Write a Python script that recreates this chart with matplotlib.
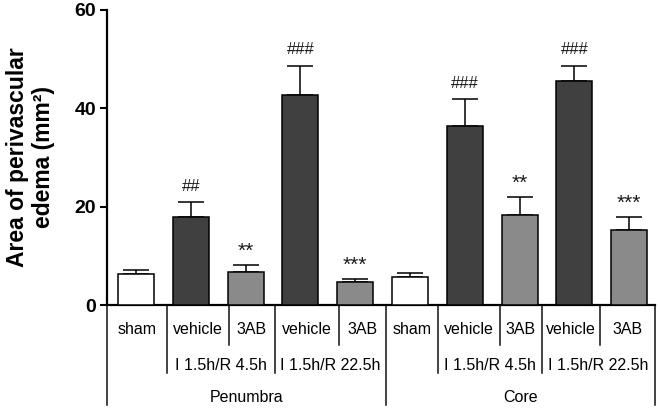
import matplotlib
matplotlib.use("Agg")
import matplotlib.pyplot as plt
from matplotlib.lines import Line2D
import numpy as np

plt.rcParams['font.family'] = ['Liberation Sans', 'DejaVu Sans']

# ---- data ----
groups = ["sham", "vehicle", "3AB", "vehicle", "3AB",
          "sham", "vehicle", "3AB", "vehicle", "3AB"]
means = [6.3, 17.8, 6.7, 42.7, 4.7, 5.6, 36.4, 18.3, 45.6, 15.2]
err_upper = [0.8, 3.1, 1.4, 6.0, 0.5, 0.9, 5.4, 3.7, 3.1, 2.7]
marks = ["", "##", "**", "###", "***", "", "###", "**", "###", "***"]
protocols = ["I 1.5h/R 4.5h", "I 1.5h/R 22.5h", "I 1.5h/R 4.5h", "I 1.5h/R 22.5h"]
regions = ["Penumbra", "Core"]
yticks = [0, 20, 40, 60]

colors = {"sham": "#ffffff", "vehicle": "#404040", "3AB": "#8a8a8a"}

W, H = 660, 409
fig = plt.figure(figsize=(W / 100, H / 100), dpi=100)
ax = fig.add_axes([107 / W, 1 - 305 / H, (655 - 107) / W, (305 - 10) / H])

x = np.arange(len(means))
ax.bar(x, means, width=0.657, color=[colors[g] for g in groups],
       edgecolor="black", linewidth=1.1, zorder=3)
ax.errorbar(x, means, yerr=[np.zeros(len(means)), err_upper], fmt="none",
            ecolor="black", elinewidth=1.1, capsize=9.5, capthick=1.1, zorder=2)
for xi, m, e, t in zip(x, means, err_upper, marks):
    if t:
        is_hash = "#" in t
        ax.annotate(t, (xi, m + e), xytext=(0, 11.5 if is_hash else 10),
                    textcoords="offset points", ha="center", va="center",
                    fontsize=12 if is_hash else 15, color="#1a1a1a")

ax.set_xlim(-0.529, 9.47)
ax.set_ylim(0, 60)
ax.set_yticks(yticks)
ax.set_yticklabels([str(v) for v in yticks], fontsize=14, fontweight="bold")
ax.tick_params(axis="y", length=5, width=1.5, direction="out", pad=3)
ax.set_xticks([])
for s in ["top", "right"]:
    ax.spines[s].set_visible(False)
for s in ["left", "bottom"]:
    ax.spines[s].set_linewidth(1.6)

ax.set_ylabel("Area of perivascular\nedema (mm²)", fontsize=16.5,
              fontweight="bold", linespacing=1.15)
ax.yaxis.label.set_va("center")
ax.yaxis.set_label_coords(-0.14, 0.5)

# ---- category table below the axis (pixel layout) ----
def fx(px):
    return px / W

def fy(py):
    return 1 - py / H

bounds = [107, 167, 229, 275, 339, 386, 438, 500, 542, 600, 655]
depth = [405, 373, 345, 373, 345, 405, 373, 345, 373, 345, 405]
for bx, d in zip(bounds, depth):
    fig.add_artist(Line2D([fx(bx), fx(bx)], [fy(306), fy(d)],
                          transform=fig.transFigure, color="#111111", lw=1.1))

for i, g in enumerate(groups):
    cx = (bounds[i] + bounds[i + 1]) / 2
    fig.text(fx(cx), fy(330), g, ha="center", va="center", fontsize=11.5)

pgroups = [(167, 275), (275, 386), (438, 542), (542, 655)]
for (a, b), t in zip(pgroups, protocols):
    fig.text(fx((a + b) / 2), fy(366), t, ha="center", va="center", fontsize=11.5)

for (a, b), t in zip([(107, 386), (386, 655)], regions):
    fig.text(fx((a + b) / 2), fy(397), t, ha="center", va="center", fontsize=11.5)

fig.savefig("out.png", dpi=100)
